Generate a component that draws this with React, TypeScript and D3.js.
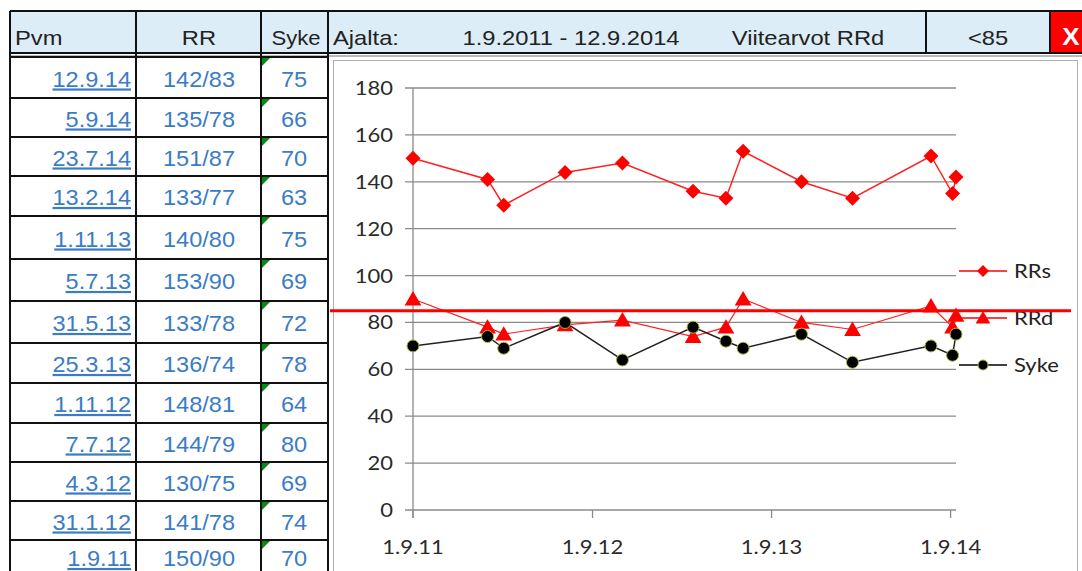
import * as d3 from 'd3';
import React from 'react';

// table rows, newest first (as in the sheet)
const dates = ['12.9.14', '5.9.14', '23.7.14', '13.2.14', '1.11.13', '5.7.13', '31.5.13', '25.3.13', '1.11.12', '7.7.12', '4.3.12', '31.1.12', '1.9.11'];
const rrs = [142, 135, 151, 133, 140, 153, 133, 136, 148, 144, 130, 141, 150];
const rrd = [83, 78, 87, 77, 80, 90, 78, 74, 81, 79, 75, 78, 90];
const syke = [75, 66, 70, 63, 75, 69, 72, 78, 64, 80, 69, 74, 70];

const yTicks = [0, 20, 40, 60, 80, 100, 120, 140, 160, 180];
const xTickLabels = ['1.9.11', '1.9.12', '1.9.13', '1.9.14'];
const limitRRd = 85;

const W = 1082;
const H = 571;
// row borders of the sheet (rows are not all the same height)
const rowTops = [57, 98, 137, 176, 216, 259, 301, 343, 383, 423, 462, 501, 540, 580];
const colX = [10, 136, 261, 328];

const parseD = (s: string) => {
  const [d, m, y] = s.split('.').map(Number);
  return new Date(2000 + y, m - 1, d);
};

const blue = '#3a7cc6';
const tableFont = '"Liberation Sans", Arial, sans-serif';
const chartFont = 'Lato, "Open Sans", sans-serif';

const diamond = (x: number, y: number, r: number) => `M${x},${y - r}L${x + r},${y}L${x},${y + r}L${x - r},${y}Z`;
const triangle = (x: number, y: number, r: number) => `M${x},${y - r}L${x + r * 1.05},${y + r * 0.8}L${x - r * 1.05},${y + r * 0.8}Z`;

// the screenshot is a bit wider than tall, so texts get stretched horizontally
const T = ({ x, y, sx = 1, anchor = 'start', children, ...rest }: any) => (
  <text transform={`translate(${x},${y}) scale(${sx},1)`} textAnchor={anchor} {...rest}>
    {children}
  </text>
);

export default function App() {
  const pts = dates
    .map((d, i) => ({ date: parseD(d), s: rrs[i], d: rrd[i], p: syke[i] }))
    .sort((a, b) => +a.date - +b.date);

  const x = d3.scaleTime().domain([parseD('1.9.11'), parseD('12.9.14')]).range([413, 956]);
  const y = d3.scaleLinear().domain([0, 180]).range([510, 88]);

  const lineS = d3.line<any>().x(p => x(p.date)).y(p => y(p.s));
  const lineD = d3.line<any>().x(p => x(p.date)).y(p => y(p.d));
  const lineP = d3.line<any>().x(p => x(p.date)).y(p => y(p.p));

  const legend = [
    { name: 'RRs', y: 271, color: 'red' },
    { name: 'RRd', y: 318, color: 'red' },
    { name: 'Syke', y: 365, color: 'black' },
  ];

  const hs = 1.13;
  const bs = 1.07;
  const cs = 1.1;

  return (
    <svg width={W} height={H} style={{ position: 'absolute', left: 0, top: 0, display: 'block', background: '#fff' }}>
      {/* header */}
      <rect x={10} y={11} width={W} height={42} fill="#dcedf7" />
      <rect x={1050} y={11} width={40} height={42} fill="#ff0000" />
      <line x1={10} x2={W} y1={11} y2={11} stroke="#111" strokeWidth={2} />
      <line x1={10} x2={W} y1={53} y2={53} stroke="#111" strokeWidth={2} />
      <line x1={10} x2={W} y1={56} y2={56} stroke="#777" strokeWidth={1} />
      {[926, 1050].map(v => (
        <line key={v} x1={v} x2={v} y1={11} y2={53} stroke="#111" strokeWidth={2} />
      ))}
      <g fontFamily={tableFont} fontSize={21} fill="#222">
        <T x={15} y={45} sx={hs}>Pvm</T>
        <T x={199} y={45} sx={hs} anchor="middle">RR</T>
        <T x={296} y={45} sx={1.05} anchor="middle">Syke</T>
        <T x={333} y={45} sx={hs}>Ajalta:</T>
        <T x={571} y={45} sx={hs} anchor="middle">1.9.2011 - 12.9.2014</T>
        <T x={808} y={45} sx={hs} anchor="middle">Viitearvot  RRd</T>
        <T x={988} y={45} sx={hs} anchor="middle">&lt;85</T>
        <T x={1071} y={45} sx={hs} anchor="middle" fill="#fff" fontWeight="bold" fontSize={23}>X</T>
      </g>

      {/* table body */}
      <g fontFamily={tableFont} fontSize={22} fill={blue}>
        {dates.map((d, i) => {
          const top = rowTops[i];
          const base = Math.min((top + rowTops[i + 1]) / 2 + 9, 566);
          return (
            <g key={d}>
              <line x1={10} x2={328} y1={top} y2={top} stroke="#111" strokeWidth={2} />
              <T x={131} y={base} sx={bs} anchor="end" textDecoration="underline">{d}</T>
              <T x={199} y={base} sx={bs} anchor="middle">{`${rrs[i]}/${rrd[i]}`}</T>
              <T x={294} y={base} sx={bs} anchor="middle">{syke[i]}</T>
              <path d={`M${262},${top + 1}L${270},${top + 1}L${262},${top + 9}Z`} fill="#0a8a12" />
            </g>
          );
        })}
      </g>
      {colX.map(v => (
        <line key={v} x1={v} x2={v} y1={11} y2={H} stroke="#111" strokeWidth={2} />
      ))}

      {/* chart frame */}
      <rect x={333.5} y={60.5} width={744} height={H} fill="#fff" stroke="#b0b0b0" strokeWidth={1} />

      {/* gridlines and axes */}
      <g stroke="#8a8a8a" strokeWidth={1.3}>
        {yTicks.map(t => (
          <line key={t} x1={405} x2={956} y1={y(t)} y2={y(t)} />
        ))}
        <line x1={413} x2={413} y1={y(180)} y2={518} />
        {xTickLabels.map(l => (
          <line key={l} x1={x(parseD(l))} x2={x(parseD(l))} y1={y(0)} y2={518} />
        ))}
      </g>
      <g fontFamily={chartFont} fontSize={20} fill="#2a2a2a">
        {yTicks.map(t => (
          <T key={t} x={393} y={y(t) + 7} sx={cs} anchor="end">{t}</T>
        ))}
        {xTickLabels.map(l => (
          <T key={l} x={x(parseD(l))} y={554} sx={cs} anchor="middle">{l}</T>
        ))}
      </g>

      {/* series */}
      <path d={lineS(pts) ?? ''} fill="none" stroke="#ff2020" strokeWidth={1.5} />
      {pts.map((p, i) => (
        <path key={'s' + i} d={diamond(x(p.date), y(p.s), 7.5)} fill="#ff0000" />
      ))}
      <path d={lineD(pts) ?? ''} fill="none" stroke="#ff2020" strokeWidth={1.2} />
      {pts.map((p, i) => (
        <path key={'d' + i} d={triangle(x(p.date), y(p.d), 8)} fill="#ff0000" />
      ))}
      <path d={lineP(pts) ?? ''} fill="none" stroke="#222" strokeWidth={1.5} />
      {pts.map((p, i) => (
        <circle key={'p' + i} cx={x(p.date)} cy={y(p.p)} r={6} fill="#000" stroke="#a8b83a" strokeWidth={1} />
      ))}

      {/* legend */}
      <g fontFamily={chartFont} fontSize={20} fill="#222">
        {legend.map(l => (
          <g key={l.name}>
            <line x1={959} x2={1007} y1={l.y} y2={l.y} stroke={l.color} strokeWidth={1.5} />
            {l.name === 'RRs' && <path d={diamond(983, l.y, 6)} fill="red" />}
            {l.name === 'RRd' && <path d={triangle(983, l.y, 7)} fill="red" />}
            {l.name === 'Syke' && <circle cx={983} cy={l.y} r={5} fill="#000" stroke="#a8b83a" />}
            <T x={1014} y={l.y + 7} sx={cs}>{l.name}</T>
          </g>
        ))}
      </g>

      {/* RRd limit line */}
      <line x1={330} x2={1071} y1={y(limitRRd)} y2={y(limitRRd)} stroke="#ff0000" strokeWidth={3} />
    </svg>
  );
}
